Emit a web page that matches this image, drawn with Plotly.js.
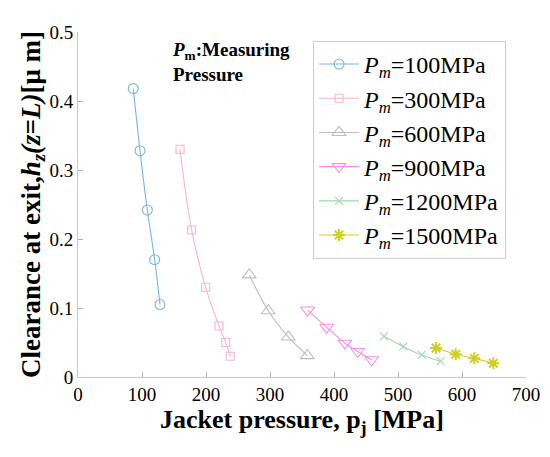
<!DOCTYPE html>
<html>
<head>
<meta charset="utf-8">
<script src="https://cdn.plot.ly/plotly-3.0.1.min.js"></script>
<style>html,body{margin:0;padding:0;background:#fff;}#chart{width:550px;height:457px;}</style>
</head>
<body>
<div id="chart"></div>
<script>
const seriesNames = ["100MPa", "300MPa", "600MPa", "900MPa", "1200MPa", "1500MPa"];
const x100 = [86.4, 96.9, 108.3, 119.8, 128.1];
const y100 = [0.418, 0.328, 0.242, 0.170, 0.105];
const x300 = [159.4, 177.6, 199.5, 220.3, 230.8, 238.0];
const y300 = [0.330, 0.213, 0.130, 0.074, 0.050, 0.030];
const x600 = [267.7, 297.3, 328.6, 358.3];
const y600 = [0.148, 0.096, 0.058, 0.031];
const x900 = [358.9, 388.6, 417.2, 437.0, 458.9];
const y900 = [0.097, 0.072, 0.049, 0.037, 0.025];
const x1200 = [478.0, 508.3, 537.0, 566.7];
const y1200 = [0.059, 0.044, 0.032, 0.023];
const x1500 = [559.4, 590.2, 619.2, 648.9];
const y1500 = [0.042, 0.033, 0.027, 0.020];
const xTicks = [0, 100, 200, 300, 400, 500, 600, 700];
const yTicks = [0, 0.1, 0.2, 0.3, 0.4, 0.5];
const yTickText = ["0", "0.1", "0.2", "0.3", "0.4", "0.5"];

const xs = [x100, x300, x600, x900, x1200, x1500];
const ys = [y100, y300, y600, y900, y1200, y1500];
const colors = ["#7ab4e2", "#f6b6ca", "#bdbdbd", "#f290ea", "#9fd9ad", "#d0d020"];
const symbols = ["circle-open", "square-open", "triangle-up-open", "triangle-down-open", "x-thin-open", "asterisk-open"];
const sizes = [10, 8, 12, 12, 8, 10];

const traces = seriesNames.map((n, i) => ({
  x: xs[i], y: ys[i], type: "scatter", mode: "lines+markers",
  name: "<i>P<sub>m</sub></i>=" + n,
  line: {color: colors[i], width: 1.1, shape: "spline", smoothing: 1},
  marker: {symbol: symbols[i], size: sizes[i], color: colors[i], line: {color: colors[i], width: i === 5 ? 2 : 1.1}}
}));

const serif = "Liberation Serif, Times New Roman, serif";
const layout = {
  width: 550, height: 457,
  margin: {l: 78, r: 24, t: 32, b: 80},
  paper_bgcolor: "#fff", plot_bgcolor: "#fff",
  font: {family: serif, color: "#000", size: 19},
  showlegend: true,
  legend: {x: 0.5246, y: 0.974, xanchor: "left", yanchor: "top",
    bordercolor: "#cccccc", borderwidth: 1, bgcolor: "#fff",
    font: {family: serif, size: 24, color: "#000"}, itemwidth: 40},
  xaxis: {range: [0, 700], tickvals: xTicks, ticks: "inside", ticklen: 5, tickcolor: "#b0b0b0",
    showline: true, linecolor: "#c8c8c8", linewidth: 1, showgrid: false, zeroline: false,
    tickfont: {family: serif, size: 19, color: "#000"},
    title: {text: "<b>Jacket pressure, p<sub>j</sub> [MPa]</b>", font: {family: serif, size: 26, color: "#000"}, standoff: 6}},
  yaxis: {range: [0, 0.5], tickvals: yTicks, ticktext: yTickText, ticks: "inside", ticklen: 5, tickcolor: "#b0b0b0",
    showline: true, linecolor: "#c8c8c8", linewidth: 1, showgrid: false, zeroline: false,
    tickfont: {family: serif, size: 19, color: "#000"},
    title: {text: "<b>Clearance at exit,<i>h<sub>z</sub>(z=L)</i>[μ m]</b>", font: {family: serif, size: 27, color: "#000"}, standoff: 0}},
  annotations: [{xref: "paper", yref: "paper", x: 0.205, y: 0.913, xanchor: "left", yanchor: "middle", align: "left",
    showarrow: false, text: "<b><i>P</i><sub>m</sub>:Measuring<br>Pressure</b>", font: {family: serif, size: 19, color: "#000"}}]
};
Plotly.newPlot("chart", traces, layout, {displayModeBar: false, staticPlot: true});
</script>
</body>
</html>
